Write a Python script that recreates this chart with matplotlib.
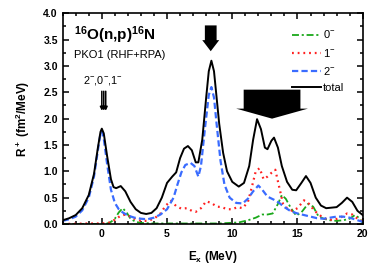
import matplotlib
matplotlib.use('Agg')
import matplotlib.pyplot as plt
from matplotlib.patches import FancyArrow
from matplotlib.ticker import MultipleLocator, FormatStrFormatter

plt.rcParams['font.family'] = ['Liberation Sans', 'DejaVu Sans']
plt.rcParams['mathtext.fontset'] = 'custom'
plt.rcParams['mathtext.rm'] = 'Liberation Sans'
plt.rcParams['mathtext.bf'] = 'Liberation Sans:bold'
plt.rcParams['lines.scale_dashes'] = False

# total strength
e_tot = [-3, -2.5, -2, -1.5, -1, -0.6, -0.3, -0.1, 0, 0.15, 0.4, 0.7, 0.9, 1.1, 1.45,
         1.8, 2.2, 2.6, 3.0, 3.4, 3.8, 4.2, 4.6, 5.0, 5.4, 5.7, 6.0, 6.3, 6.6, 6.9,
         7.2, 7.4, 7.7, 8.0, 8.2, 8.4, 8.6, 8.8, 9.0, 9.3, 9.6, 10.0, 10.5, 10.9,
         11.3, 11.6, 11.9, 12.2, 12.5, 12.7, 13.0, 13.2, 13.5, 13.8, 14.2, 14.6,
         14.9, 15.3, 15.65, 16.0, 16.4, 16.8, 17.2, 17.6, 18.0, 18.4, 18.8, 19.2,
         19.6, 20.0]
r_tot = [0.07, 0.11, 0.17, 0.3, 0.55, 0.95, 1.45, 1.75, 1.81, 1.72, 1.3, 0.85, 0.7,
         0.68, 0.72, 0.62, 0.42, 0.28, 0.21, 0.19, 0.21, 0.3, 0.5, 0.78, 0.9, 0.98,
         1.25, 1.43, 1.48, 1.4, 1.17, 1.17, 1.6, 2.4, 2.9, 3.1, 2.9, 2.4, 1.9, 1.35,
         1.0, 0.8, 0.71, 0.78, 1.1, 1.6, 1.99, 1.8, 1.45, 1.42, 1.58, 1.64, 1.45,
         1.1, 0.8, 0.65, 0.64, 0.78, 0.91, 0.78, 0.5, 0.35, 0.3, 0.31, 0.32, 0.4,
         0.5, 0.42, 0.25, 0.17]

# 2- component
e_2m = [-3, -2.5, -2, -1.5, -1, -0.6, -0.3, -0.1, 0, 0.15, 0.4, 0.7, 1.0, 1.3, 1.6,
        2.0, 2.5, 3.0, 3.5, 4.0, 4.5, 5.0, 5.5, 5.8, 6.1, 6.4, 6.8, 7.1, 7.4, 7.6,
        7.9, 8.2, 8.4, 8.6, 8.8, 9.1, 9.4, 9.8, 10.3, 10.8, 11.2, 11.6, 12.0, 12.3,
        12.7, 13.2, 13.6, 14.0, 14.5, 15.0, 15.5, 16.0, 16.5, 17.0, 17.5, 18.0,
        18.5, 19.0, 19.5, 20.0]
r_2m = [0.06, 0.09, 0.14, 0.26, 0.5, 0.9, 1.4, 1.72, 1.76, 1.62, 1.15, 0.65, 0.4,
        0.28, 0.22, 0.16, 0.12, 0.1, 0.09, 0.12, 0.18, 0.28, 0.5, 0.75, 0.98, 1.12,
        1.16, 1.1, 0.9, 1.1, 1.8, 2.45, 2.6, 2.4, 1.9, 1.2, 0.75, 0.5, 0.4, 0.39,
        0.48, 0.62, 0.73, 0.65, 0.52, 0.46, 0.4, 0.32, 0.24, 0.2, 0.17, 0.14, 0.11,
        0.1, 0.12, 0.14, 0.14, 0.12, 0.08, 0.04]

# 1- component
e_1m = [-3, -1, 0, 0.5, 1.0, 1.4, 1.8, 2.2, 2.6, 3.0, 3.5, 4.0, 4.5, 4.9, 5.3, 5.7,
        6.1, 6.5, 6.9, 7.2, 7.6, 8.0, 8.4, 8.8, 9.2, 9.6, 10.0, 10.4, 10.8, 11.2,
        11.5, 11.8, 12.1, 12.4, 12.7, 13.0, 13.3, 13.6, 13.9, 14.2, 14.6, 15.0,
        15.5, 15.9, 16.3, 16.8, 17.3, 17.8, 18.3, 18.8, 19.2, 19.6, 20.0]
r_1m = [0.0, 0.01, 0.01, 0.02, 0.08, 0.15, 0.18, 0.14, 0.09, 0.06, 0.06, 0.1, 0.2,
        0.35, 0.44, 0.34, 0.29, 0.3, 0.25, 0.23, 0.3, 0.43, 0.4, 0.33, 0.32, 0.28,
        0.28, 0.32, 0.3, 0.42, 0.7, 1.0, 1.06, 0.85, 0.9, 0.97, 1.03, 0.7, 0.38,
        0.3, 0.25, 0.3, 0.45, 0.38, 0.25, 0.15, 0.08, 0.08, 0.12, 0.2, 0.18, 0.1,
        0.05]

# 0- component
e_0m = [-3, 0.3, 0.7, 1.0, 1.3, 1.6, 1.9, 2.2, 2.6, 3.0, 4.0, 6.0, 9.0, 10.5, 11.2,
        11.8, 12.3, 12.7, 13.1, 13.5, 13.8, 14.1, 14.5, 14.9, 15.3, 15.8, 16.2,
        16.6, 17.0, 17.5, 18.0, 18.5, 19.0, 19.4, 19.7, 20.0]
r_0m = [0.0, 0.0, 0.04, 0.1, 0.22, 0.3, 0.22, 0.1, 0.04, 0.02, 0.01, 0.01, 0.01,
        0.03, 0.07, 0.12, 0.18, 0.18, 0.2, 0.38, 0.55, 0.48, 0.3, 0.16, 0.22, 0.38,
        0.33, 0.15, 0.1, 0.07, 0.06, 0.07, 0.1, 0.17, 0.12, 0.02]

fig = plt.figure(figsize=(3.74, 2.74), dpi=100)
ax = fig.add_axes([0.1676, 0.1825, 0.8022, 0.769])

ax.plot(e_0m, r_0m, color='#1aa81a', lw=1.3, dashes=(5, 2, 1.5, 2), label='0$^{-}$')
ax.plot(e_1m, r_1m, color='#ff2020', lw=1.6, dashes=(1.3, 2.8), label='1$^{-}$')
ax.plot(e_2m, r_2m, color='#3a6cff', lw=1.6, dashes=(4.5, 2.3), label='2$^{-}$')
ax.plot(e_tot, r_tot, color='black', lw=1.4, label='total')

# block arrows
ax.add_patch(FancyArrow(8.35, 3.77, 0, -0.49, width=0.9, head_width=1.3,
                        head_length=0.21, length_includes_head=True,
                        color='black', lw=0))
ax.add_patch(FancyArrow(13.05, 2.55, 0, -0.55, width=4.35, head_width=5.5,
                        head_length=0.19, length_includes_head=True,
                        color='black', lw=0))
for xa in [0.0, 0.15, 0.3]:
    ax.annotate('', xy=(xa, 2.15), xytext=(xa, 2.52),
                arrowprops=dict(arrowstyle='-|>', lw=1.1, color='black',
                                mutation_scale=5, shrinkA=0, shrinkB=0))

ax.text(-2.15, 3.5, r'$\mathbf{^{16}}$O(n,p)$\mathbf{^{16}}$N', fontsize=11,
        fontweight='bold', ha='left', va='baseline')
ax.text(-2.15, 3.16, 'PKO1 (RHF+RPA)', fontsize=8, ha='left', va='baseline')
ax.text(0.1, 2.67, '2$^{-}$,0$^{-}$,1$^{-}$', fontsize=7.8, ha='center', va='baseline')

ax.set_xlim(-3, 20)
ax.set_ylim(0, 4)
ax.xaxis.set_major_locator(MultipleLocator(5))
ax.xaxis.set_minor_locator(MultipleLocator(1))
ax.yaxis.set_major_locator(MultipleLocator(0.5))
ax.yaxis.set_minor_locator(MultipleLocator(0.25))
ax.yaxis.set_major_formatter(FormatStrFormatter('%.1f'))
ax.tick_params(which='both', direction='in', top=True, right=True, width=1.1,
               labelsize=7.5, pad=3.5)
ax.tick_params(which='major', length=4)
ax.tick_params(which='minor', length=2.5)
for lab in ax.get_xticklabels() + ax.get_yticklabels():
    lab.set_fontweight('bold')
for sp in ax.spines.values():
    sp.set_linewidth(1.2)

ax.set_xlabel(r'E$\mathbf{_x}$ (MeV)', fontsize=8.5, fontweight='bold', labelpad=7)
ax.set_ylabel(r'R$\mathbf{^+}$ (fm$\mathbf{^2}$/MeV)', fontsize=8.5, fontweight='bold',
              labelpad=8)

ax.legend(loc='upper right', frameon=False, fontsize=8, handlelength=2.6,
          handletextpad=0.2, labelspacing=0.55, borderaxespad=0.3,
          bbox_to_anchor=(0.965, 0.965))

fig.savefig('out.png', dpi=100)
